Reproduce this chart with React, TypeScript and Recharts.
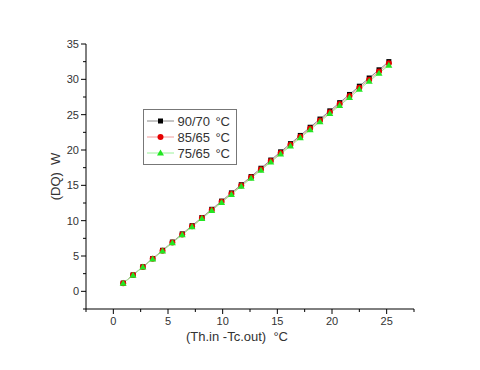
import { LineChart, Line, XAxis, YAxis, Legend, Label } from 'recharts';

// values (Origin-style plot)
const xValues = [
  0.9, 1.8, 2.7, 3.6, 4.5, 5.4, 6.3, 7.2, 8.1, 9.0, 9.9, 10.8, 11.7, 12.6,
  13.5, 14.4, 15.3, 16.2, 17.1, 18.0, 18.9, 19.8, 20.7, 21.6, 22.5, 23.4, 24.3, 25.2,
];
const s9070 = [
  1.16, 2.32, 3.48, 4.64, 5.81, 6.97, 8.13, 9.29, 10.45, 11.61, 12.77, 13.93, 15.09, 16.25,
  17.42, 18.58, 19.74, 20.9, 22.06, 23.22, 24.38, 25.54, 26.7, 27.86, 29.03, 30.19, 31.35, 32.51,
];
const s8565 = [
  1.15, 2.3, 3.46, 4.61, 5.76, 6.91, 8.06, 9.22, 10.37, 11.52, 12.67, 13.82, 14.98, 16.13,
  17.28, 18.43, 19.58, 20.74, 21.89, 23.04, 24.19, 25.34, 26.5, 27.65, 28.8, 29.95, 31.1, 32.26,
];
const s7565 = [
  1.14, 2.29, 3.43, 4.57, 5.72, 6.86, 8.0, 9.14, 10.29, 11.43, 12.57, 13.72, 14.86, 16.0,
  17.15, 18.29, 19.43, 20.57, 21.72, 22.86, 24.0, 25.15, 26.29, 27.43, 28.58, 29.72, 30.86, 32.0,
];
const seriesNames = ['90/70', '85/65', '75/65'];
const xTicks = [-2.5, 0, 2.5, 5, 7.5, 10, 12.5, 15, 17.5, 20, 22.5, 25, 27.5];
const xMajor = [0, 5, 10, 15, 20, 25];
const yTicks = [-2.5, 0, 2.5, 5, 7.5, 10, 12.5, 15, 17.5, 20, 22.5, 25, 27.5, 30, 32.5, 35];
const yMajor = [0, 5, 10, 15, 20, 25, 30, 35];

const data = xValues.map((x, i) => ({ x, a: s9070[i], b: s8565[i], c: s7565[i] }));

const font = "'Liberation Sans', Arial, sans-serif";
const textColor = '#333';

const Square = ({ cx, cy, fill }: any) => (
  <rect x={cx - 2.5} y={cy - 2.5} width={5} height={5} fill={fill} />
);
const Circle = ({ cx, cy, fill }: any) => <circle cx={cx} cy={cy} r={3} fill={fill} />;
const Triangle = ({ cx, cy, fill }: any) => (
  <polygon points={`${cx},${cy - 3.5} ${cx + 3.5},${cy + 2.5} ${cx - 3.5},${cy + 2.5}`} fill={fill} />
);

const series = [
  { key: 'a', fill: '#000000', line: '#8a8a8a', Marker: Square },
  { key: 'b', fill: '#e60000', line: '#f29a9a', Marker: Circle },
  { key: 'c', fill: '#22e622', line: '#9af29a', Marker: Triangle },
];

const XTick = ({ x, y, payload }: any) => {
  const major = xMajor.includes(payload.value);
  return (
    <g>
      <line x1={x} x2={x} y1={y} y2={y + (major ? 5 : 3)} stroke="#000" />
      {major && (
        <text x={x} y={y + 16} textAnchor="middle" fontSize={11} fontFamily={font} fill={textColor}>
          {payload.value}
        </text>
      )}
    </g>
  );
};

const YTick = ({ x, y, payload }: any) => {
  const major = yMajor.includes(payload.value);
  return (
    <g>
      <line x1={x} x2={x - (major ? 5 : 3)} y1={y} y2={y} stroke="#000" />
      {major && (
        <text x={x - 7} y={y + 4} textAnchor="end" fontSize={11} fontFamily={font} fill={textColor}>
          {payload.value}
        </text>
      )}
    </g>
  );
};

const LegendBox = () => (
  <div
    style={{
      border: '1px solid #777',
      background: '#fff',
      padding: '3px 6px 3px 2px',
      width: 84,
      fontFamily: font,
      fontSize: 13,
      color: textColor,
    }}
  >
    {series.map((s, i) => (
      <div key={s.key} style={{ display: 'flex', alignItems: 'center', height: 16 }}>
        <svg width={30} height={14}>
          <line x1={1} x2={28} y1={7} y2={7} stroke={s.line} />
          <s.Marker cx={14.5} cy={7} fill={s.fill} />
        </svg>
        <span style={{ marginLeft: 3, width: 40 }}>{seriesNames[i]}</span>
        <span>°C</span>
      </div>
    ))}
  </div>
);

export default function App() {
  return (
    <div style={{ position: 'absolute', left: 0, top: 0, background: '#fff' }}>
      <LineChart width={480} height={370} data={data} margin={{ top: 44, right: 66, left: 46, bottom: 31 }}>
        <XAxis
          dataKey="x"
          type="number"
          domain={[-2.5, 27.5]}
          ticks={xTicks}
          interval={0}
          tickSize={0}
          tickMargin={0}
          height={30}
          stroke="#000"
          tick={<XTick />}
        >
          <Label
            content={({ viewBox }: any) => (
              <text
                x={viewBox.x + viewBox.width / 2 - 13}
                y={viewBox.y + 32}
                textAnchor="middle"
                fontSize={13}
                fontFamily={font}
                fill={textColor}
                style={{ whiteSpace: 'pre' }}
              >
                {'(Th.in -Tc.out)  °C'}
              </text>
            )}
          />
        </XAxis>
        <YAxis
          type="number"
          domain={[-2.5, 35]}
          ticks={yTicks}
          interval={0}
          tickSize={0}
          tickMargin={0}
          width={40}
          stroke="#000"
          tick={<YTick />}
        >
          <Label
            content={({ viewBox }: any) => {
              const cx = viewBox.x + 14;
              const cy = viewBox.y + viewBox.height / 2;
              return (
                <text
                  x={cx}
                  y={cy}
                  transform={`rotate(-90 ${cx} ${cy})`}
                  textAnchor="middle"
                  fontSize={13}
                  fontFamily={font}
                  fill={textColor}
                  style={{ whiteSpace: 'pre' }}
                >
                  {'(DQ)  W'}
                </text>
              );
            }}
          />
        </YAxis>
        <Legend
          layout="horizontal"
          verticalAlign="middle"
          align="center"
          content={<LegendBox />}
          wrapperStyle={{ position: 'absolute', left: 143, top: 109, width: 'auto' }}
        />
        {series.map((s) => (
          <Line
            key={s.key}
            dataKey={s.key}
            type="linear"
            stroke={s.line}
            strokeWidth={1}
            isAnimationActive={false}
            dot={(p: any) => <s.Marker key={`${s.key}-${p.index}`} cx={p.cx} cy={p.cy} fill={s.fill} />}
            activeDot={false}
          />
        ))}
      </LineChart>
    </div>
  );
}
